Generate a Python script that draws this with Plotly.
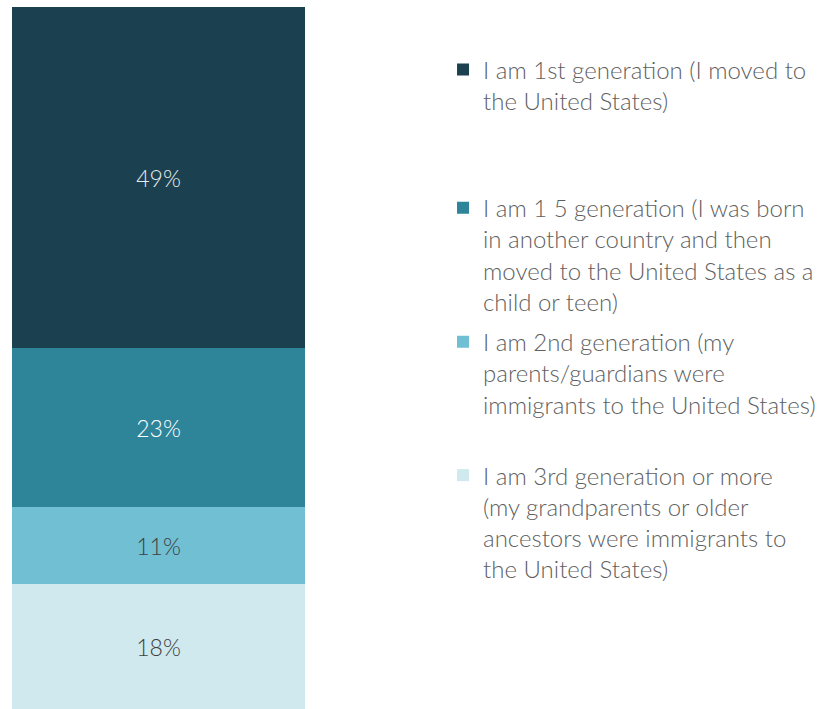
import plotly.graph_objects as go

# Survey responses: immigrant generation, stacked bottom to top
categories = [
    "I am 3rd generation or more<br>(my grandparents or older<br>ancestors were immigrants to<br>the United States)",
    "I am 2nd generation (my<br>parents/guardians were<br>immigrants to the United States)",
    "I am 1 5 generation (I was born<br>in another country and then<br>moved to the United States as a<br>child or teen)",
    "I am 1st generation (I moved to<br>the United States)",
]
values = [18, 11, 23, 49]
colors = ["#D0E9EF", "#70BFD3", "#2E8499", "#1B4150"]
label_colors = ["#404040", "#404040", "#FFFFFF", "#E8ECEE"]

# each legend entry gets its own legend box so the entries sit at fixed heights
legend_ids = ["legend4", "legend3", "legend2", "legend"]
legend_tops = [0.361, 0.549, 0.738, 0.933]

FONT = "Lato"
fig = go.Figure()
for name, v, c, lc, lg in zip(categories, values, colors, label_colors, legend_ids):
    fig.add_trace(go.Bar(
        x=[0], y=[v], name=name, marker=dict(color=c, line=dict(width=0)),
        text=[f"{v}%"], textposition="inside", insidetextanchor="middle",
        textfont=dict(color=lc, size=23, family=FONT, weight=300),
        width=1, legend=lg, hoverinfo="skip",
    ))

legend_style = dict(
    x=0.5416, xref="container", xanchor="left",
    yref="container", yanchor="top", valign="top",
    font=dict(family=FONT, size=24, color="#5f5f5f", weight=300),
    bgcolor="rgba(0,0,0,0)", borderwidth=0,
)
layout_legends = {}
for lg, top in zip(legend_ids, legend_tops):
    layout_legends[lg] = dict(y=top, **legend_style)

fig.update_layout(
    barmode="stack",
    width=818, height=709,
    margin=dict(l=12, r=513, t=7, b=0, autoexpand=False),
    paper_bgcolor="white", plot_bgcolor="white",
    showlegend=True,
    bargap=0,
    xaxis=dict(range=[-0.5, 0.5], visible=False, fixedrange=True),
    yaxis=dict(range=[0, 101], visible=False, fixedrange=True),
    uniformtext=dict(mode="show", minsize=10),
    **layout_legends,
)

fig.write_html("out.html")
